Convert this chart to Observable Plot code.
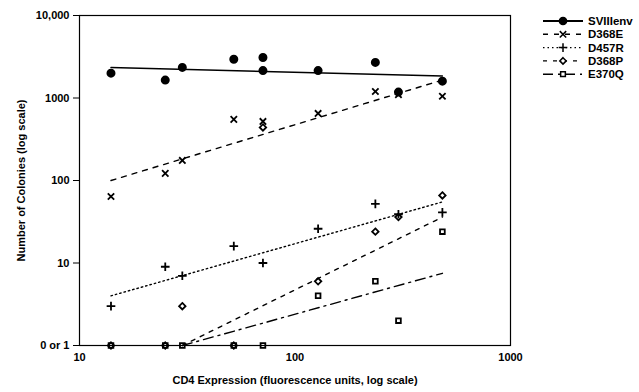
<!DOCTYPE html>
<html><head><meta charset="utf-8">
<script src="https://cdn.jsdelivr.net/npm/d3@7"></script>
<script src="https://cdn.jsdelivr.net/npm/@observablehq/plot@0.6"></script>
<style>
body{margin:0;background:#fff;}
#wrap{position:relative;width:639px;height:392px;font-family:Arial,"Liberation Sans",sans-serif;}
#legend{position:absolute;left:0;top:0;}
</style></head>
<body><div id="wrap"></div>
<script>
const seriesNames = ["SVIIIenv","D368E","D457R","D368P","E370Q"];
const xTicks = [10,100,1000];
const yTicks = [1,10,100,1000,10000];
const yTickLabels = ["0 or 1","10","100","1000","10,000"];

const svX = [14,25,30,52,71,71,128,236,302,483];
const svY = [2000,1650,2350,2950,3100,2150,2150,2700,1180,1600];
const d368eX = [14,25,30,52,71,128,236,302,483];
const d368eY = [64,122,175,550,520,650,1200,1100,1050];
const d457rX = [14,25,30,52,71,128,236,302,483];
const d457rY = [3,9,7,16,10,26,52,39,41];
const d368pX = [14,25,30,52,71,128,236,302,483];
const d368pY = [1,1,3,1,440,6,24,36,66];
const e370qX = [14,25,30,52,71,128,236,302,483];
const e370qY = [1,1,1,1,1,4,6,2,24];

const svFitX = [14,483], svFitY = [2340,1850];
const d368eFitX = [14,483], d368eFitY = [100,1650];
const d457rFitX = [14,483], d457rFitY = [4,55];
const d368pFitX = [30,483], d368pFitY = [1,36];
const e370qFitX = [30,483], e370qFitY = [1,7.5];

const pts = (xs, ys) => xs.map((x,i)=>({x, y: ys[i]}));
const styles = [
  {name:"SVIIIenv", pts:pts(svX,svY), fit:pts(svFitX,svFitY), dash:null, symbol:"circle", fill:"black", r:3.6},
  {name:"D368E", pts:pts(d368eX,d368eY), fit:pts(d368eFitX,d368eFitY), dash:"5,6", symbol:"times", fill:"none", r:3},
  {name:"D457R", pts:pts(d457rX,d457rY), fit:pts(d457rFitX,d457rFitY), dash:"1.5,3", symbol:"plus", fill:"none", r:2.9},
  {name:"D368P", pts:pts(d368pX,d368pY), fit:pts(d368pFitX,d368pFitY), dash:"4,6", symbol:"diamond2", fill:"none", r:2.9},
  {name:"E370Q", pts:pts(e370qX,e370qY), fit:pts(e370qFitX,e370qFitY), dash:"10,5,2,5", symbol:"square2", fill:"none", r:3}
];

const marks = [Plot.frame({stroke:"black", strokeWidth:1.2})];
for (const s of styles) {
  marks.push(Plot.line(s.fit, {x:"x", y:"y", stroke:"black", strokeWidth: s.name==="SVIIIenv"?1.5:1.4, strokeDasharray: s.dash ?? undefined}));
}
for (const s of styles) {
  marks.push(Plot.dot(s.pts, {x:"x", y:"y", symbol: s.symbol, r: s.r, stroke:"black", fill: s.fill, strokeWidth: 1.8}));
}
marks.push(Plot.axisY({ticks: yTicks, tickSize: 6, tickPadding: 4, tickFormat: d => yTickLabels[yTicks.indexOf(d)], label: "Number of Colonies (log scale)", labelAnchor: "center", labelArrow: false, labelOffset: 62}));
marks.push(Plot.axisX({ticks: xTicks, tickSize: 0, tickPadding: 8, tickFormat: d => String(d), label: "CD4 Expression (fluorescence units, log scale)", labelAnchor: "center", labelArrow: false, labelOffset: 38}));

const chart = Plot.plot({
  width: 639, height: 392,
  marginLeft: 79, marginRight: 129, marginTop: 15, marginBottom: 47,
  x: {type:"log", domain:[10,1000]},
  y: {type:"log", domain:[1,10000]},
  style: {fontFamily: "Arial, 'Liberation Sans', sans-serif", fontSize: "11px", fontWeight: "bold", color: "black", background: "white"},
  marks
});
document.getElementById("wrap").appendChild(chart);

// legend
const leg = d3.select("#wrap").append("svg").attr("id","legend").attr("width",639).attr("height",392);
const symMap = {circle:d3.symbolCircle, times:d3.symbolTimes, plus:d3.symbolPlus, diamond2:d3.symbolDiamond2, square2:d3.symbolSquare2};
styles.forEach((s,i)=>{
  const y = 21 + i*13.3;
  const g = leg.append("g").attr("transform",`translate(0,${y})`);
  g.append("line").attr("x1",543).attr("x2",583).attr("y1",0).attr("y2",0)
    .attr("stroke","black").attr("stroke-width", i===0?2:1.4)
    .attr("stroke-dasharray", s.dash ?? null);
  const size = Math.PI * s.r * s.r;
  g.append("path").attr("d", d3.symbol(symMap[s.symbol], size)()).attr("transform","translate(563,0)")
    .attr("fill", s.fill==="black"?"black":"white").attr("stroke","black").attr("stroke-width",1.5);
  g.append("text").attr("x",588).attr("y",4).text(s.name)
    .attr("font-family","Arial, 'Liberation Sans', sans-serif").attr("font-size",11.5).attr("font-weight","bold");
});
</script></body></html>
